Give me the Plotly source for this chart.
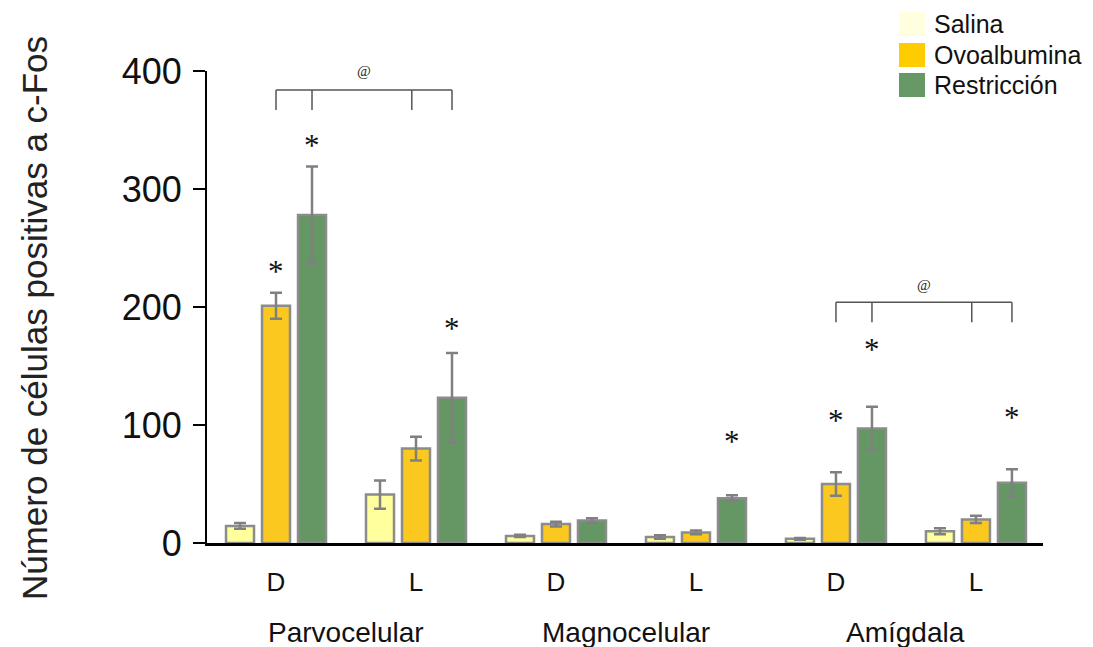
import plotly.graph_objects as go

# ---- data ----
positions = ["D", "L", "D", "L", "D", "L"]
regions = ["Parvocelular", "Magnocelular", "Amígdala"]
series_names = ["Salina", "Ovoalbumina", "Restricción"]
salina = [14.5, 41, 6, 5, 3.5, 10]
salina_err = [2.5, 12, 1, 1.5, 0.7, 2.5]
ovo = [201, 80, 16, 9, 50, 20]
ovo_err = [11, 10, 2, 1.5, 10, 3]
restr = [278, 123, 19, 38, 97, 51]
restr_err = [41, 38, 2, 2.5, 18.5, 11.5]
# asterisks: (category index, series index, y height)
stars = [(0, 1, 230), (0, 2, 337), (1, 2, 182), (3, 2, 86), (4, 1, 104), (4, 2, 164), (5, 2, 106)]
# brackets: (first category index, y of bar, y of ticks bottom, y of "@")
brackets = [(0, 384, 367, 400), (4, 204, 187, 219)]

bar_colors = ["#FFFF9E", "#FAC81E", "#659765"]
legend_colors = ["#FFFFE0", "#FFCC00", "#669966"]
bargap = 0.2286
slot = (1 - bargap) / 3

x = list(range(len(positions)))
fig = go.Figure()
for name, vals, errs, col in zip(series_names, [salina, ovo, restr], [salina_err, ovo_err, restr_err], bar_colors):
    fig.add_trace(go.Bar(
        x=x, y=vals, name=name,
        marker=dict(color=col, line=dict(color="#8c8c8c", width=2.5)),
        error_y=dict(type="data", array=errs, visible=True, color="#808080", thickness=2.5, width=6),
        showlegend=False,
    ))

annotations = []
shapes = []
for ci, si, yv in stars:
    annotations.append(dict(x=ci + (si - 1) * slot, y=yv, xref="x", yref="y", text="*",
                            showarrow=False, font=dict(family="Liberation Serif", size=31, color="#111"),
                            yanchor="middle"))

for ci, ytop, ybot, yat in brackets:
    xs = [ci, ci + slot, ci + 1 - 0.03, ci + 1 + slot]
    shapes.append(dict(type="line", xref="x", yref="y", x0=xs[0], x1=xs[3], y0=ytop, y1=ytop,
                       line=dict(color="#555", width=1.5)))
    for xi in xs:
        shapes.append(dict(type="line", xref="x", yref="y", x0=xi, x1=xi, y0=ytop, y1=ybot,
                           line=dict(color="#555", width=1.5)))
    annotations.append(dict(x=(xs[0] + xs[3]) / 2, y=yat, xref="x", yref="y", text="@", showarrow=False,
                            font=dict(family="Liberation Serif", size=15, color="#222"), yanchor="middle"))

# region labels
for i, r in enumerate(regions):
    annotations.append(dict(x=2 * i + 0.5, y=-0.19, xref="x", yref="paper", text=r, showarrow=False,
                            font=dict(family="Arial, Liberation Sans", size=28, color="#111"), yanchor="middle"))

# y title
annotations.append(dict(x=-0.2057, y=0.4767, xref="paper", yref="paper", text="Número de células positivas a c-Fos",
                        textangle=-90, showarrow=False,
                        font=dict(family="Arial, Liberation Sans", size=35, color="#222"),
                        xanchor="center", yanchor="middle"))

# legend (custom)
legend_tops = [12, 43, 73]
for name, col, top in zip(series_names, legend_colors, legend_tops):
    y0 = (543 - top - 24) / 472
    y1 = (543 - top) / 472
    shapes.append(dict(type="rect", xref="paper", yref="paper", x0=(899 - 207) / 836, x1=(925 - 207) / 836,
                       y0=y0, y1=y1, fillcolor=col, line=dict(width=0)))
    annotations.append(dict(x=(932 - 207) / 836, y=(y0 + y1) / 2, xref="paper", yref="paper", text=name,
                            showarrow=False, xanchor="left", yanchor="middle",
                            font=dict(family="Arial, Liberation Sans", size=25, color="#111")))

fig.update_layout(
    width=1093, height=647,
    margin=dict(l=207, r=50, t=71, b=104),
    paper_bgcolor="white", plot_bgcolor="white",
    barmode="group", bargap=bargap, bargroupgap=0.222,
    shapes=shapes, annotations=annotations,
    font=dict(family="Arial, Liberation Sans", color="#111"),
)
fig.update_xaxes(
    range=[-0.493, 5.479], tickvals=x, ticktext=positions,
    showline=True, linecolor="black", linewidth=3, ticks="", showgrid=False, zeroline=False,
    tickfont=dict(size=26, color="#111"), ticklabelstandoff=14,
)
fig.update_yaxes(
    range=[0, 400], tickvals=[0, 100, 200, 300, 400],
    showline=True, linecolor="black", linewidth=2, ticks="outside", ticklen=12, tickwidth=2,
    tickcolor="black", showgrid=False, zeroline=False,
    tickfont=dict(size=36, color="#111"), ticklabelstandoff=4,
)

fig.write_html("out.html")
